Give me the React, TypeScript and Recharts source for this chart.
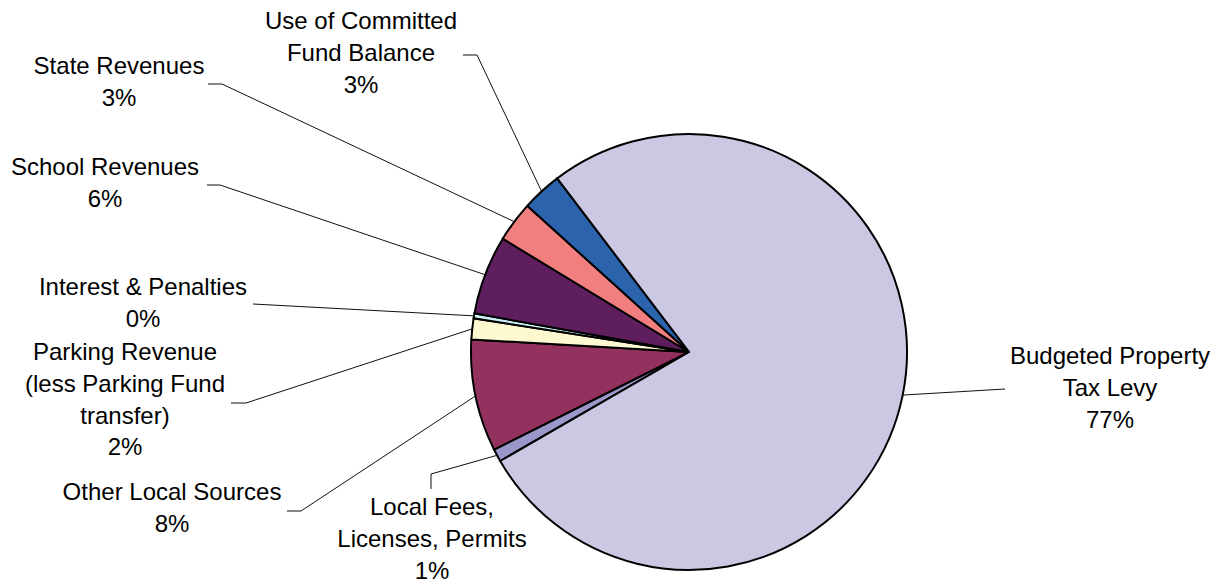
import React from 'react';
import { PieChart, Pie, Cell } from 'recharts';

// slice order follows the sheet: first slice starts at the bottom-left and runs clockwise
const categories = [
  "Local Fees,\nLicenses, Permits",
  "Other Local Sources",
  "Parking Revenue\n(less Parking Fund\ntransfer)",
  "Interest & Penalties",
  "School Revenues",
  "State Revenues",
  "Use of Committed\nFund Balance",
  "Budgeted Property\nTax Levy",
];

const shares = [0.95, 8.3, 1.55, 0.37, 5.86, 3.0, 2.97, 77.0];

const colors = [
  "#9A97CB",
  "#93325F",
  "#FCF8D0",
  "#CCF0F5",
  "#5F1F5F",
  "#F27F7F",
  "#2B63AD",
  "#CBC8E4",
];

// where each label sits: text centre x, first baseline y, and the leader line's elbow/end
const labelLayout = [
  { x: 432, y: 515, elbow: [431, 474], end: [431, 489] },
  { x: 172, y: 500, elbow: [301, 511], end: [287, 511] },
  { x: 125, y: 360, elbow: [246, 403], end: [231, 403] },
  { x: 143, y: 295, elbow: [253, 304], end: [253, 304] },
  { x: 105, y: 175, elbow: [220, 185], end: [207, 185] },
  { x: 119, y: 74, elbow: [222, 84], end: [208, 84] },
  { x: 361, y: 29, elbow: [477, 55], end: [463, 55] },
  { x: 1110, y: 364, elbow: [1005, 389], end: [1005, 389] },
];

const data = categories.map((name, i) => ({ name, value: shares[i] }));

const RADIAN = Math.PI / 180;
const LINE_H = 31.8;

const renderLabel = (props: any) => {
  const { cx, cy, midAngle, outerRadius, percent, index, name } = props;
  const pos = labelLayout[index];
  const sx = cx + outerRadius * Math.cos(-midAngle * RADIAN);
  const sy = cy + outerRadius * Math.sin(-midAngle * RADIAN);
  const lines = [...String(name).split("\n"), `${Math.round(percent * 100)}%`];
  return (
    <g key={`lbl-${index}`}>
      <polyline
        points={`${sx},${sy} ${pos.elbow[0]},${pos.elbow[1]} ${pos.end[0]},${pos.end[1]}`}
        fill="none"
        stroke="#111"
        strokeWidth={1}
      />
      <text
        x={pos.x}
        y={pos.y}
        textAnchor="middle"
        fill="#000"
        fontSize={24}
        fontFamily='"Liberation Sans", Arial, sans-serif'
      >
        {lines.map((ln, i) => (
          <tspan key={i} x={pos.x} y={pos.y + i * LINE_H}>
            {ln}
          </tspan>
        ))}
      </text>
    </g>
  );
};

export default function App() {
  return (
    <div style={{ width: 1221, height: 586, background: '#fff' }}>
      <style>{'body{margin:0;}'}</style>
      <PieChart width={1221} height={586} margin={{ top: 0, right: 0, bottom: 0, left: 0 }}>
        <Pie
          data={data}
          dataKey="value"
          nameKey="name"
          cx={689}
          cy={352}
          outerRadius={218}
          startAngle={210}
          endAngle={-150}
          stroke="#000"
          strokeWidth={2}
          label={renderLabel}
          labelLine={false}
          isAnimationActive={false}
        >
          {data.map((entry, index) => (
            <Cell key={`cell-${index}`} fill={colors[index]} />
          ))}
        </Pie>
      </PieChart>
    </div>
  );
}
